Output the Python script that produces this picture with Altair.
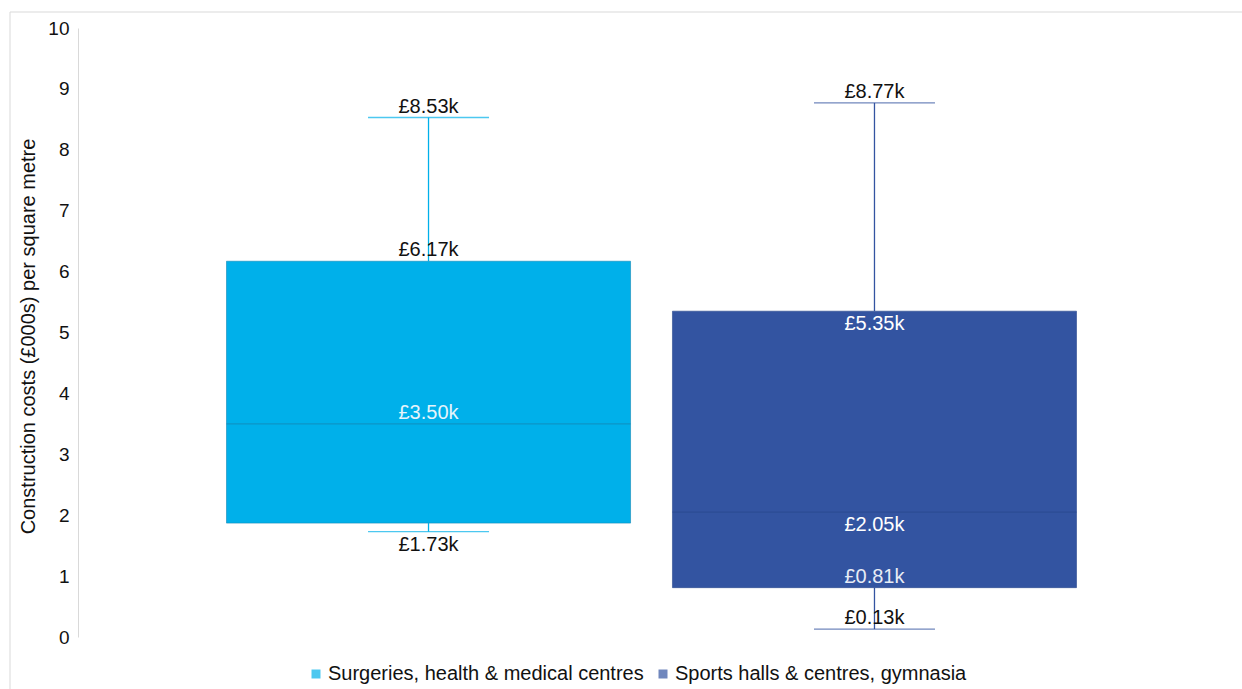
import altair as alt
import pandas as pd

categories = ["Surgeries, health & medical centres", "Sports halls & centres, gymnasia"]
colors = ["#00B0EA", "#3354A1"]
edge_colors = ["#1189B8", "#2A488E"]
mins = [1.73, 0.13]
q1s = [1.87, 0.81]
medians = [3.50, 2.05]
q3s = [6.17, 5.35]
maxs = [8.53, 8.77]

# label rows: category index, value, text, placement, colour
label_cat = [0, 0, 0, 0, 1, 1, 1, 1, 1]
label_val = [8.53, 6.17, 3.50, 1.73, 8.77, 5.35, 2.05, 0.81, 0.13]
label_txt = ["£8.53k", "£6.17k", "£3.50k", "£1.73k", "£8.77k", "£5.35k", "£2.05k", "£0.81k", "£0.13k"]
label_pos = ["above", "above", "above", "below", "above", "below", "below", "above", "above"]
label_col = ["#111111", "#111111", "#E6F4FB", "#111111", "#111111", "#FFFFFF", "#FFFFFF", "#E8ECF5", "#111111"]

FONT = "Liberation Sans"

stats = pd.DataFrame({
    "category": categories,
    "min": mins, "q1": q1s, "median": medians, "q3": q3s, "max": maxs,
    "edge": edge_colors,
})
labels = pd.DataFrame({
    "category": [categories[i] for i in label_cat],
    "value": label_val,
    "text": label_txt,
    "pos": label_pos,
    "col": label_col,
})

xenc = alt.X("category:N", sort=categories, axis=None,
             scale=alt.Scale(paddingInner=0.094, paddingOuter=0.333))
yscale = alt.Scale(domain=[0, 10], nice=False, zero=True)
legend = alt.Legend(title=None, orient="none", legendX=228, legendY=636,
                    direction="horizontal", symbolType="square",
                    symbolSize=81, symbolStrokeWidth=0, symbolOpacity=1,
                    labelFont=FONT, labelFontSize=20, labelColor="#111111",
                    columnPadding=9, labelOffset=2, labelLimit=600)
color_enc = alt.Color("category:N", sort=categories,
                      scale=alt.Scale(domain=categories, range=colors),
                      legend=legend)

base = alt.Chart(stats)

upper = base.mark_rule(strokeWidth=1.3).encode(
    x=xenc, y=alt.Y("q3:Q", scale=yscale), y2="max:Q", color=color_enc)
lower = base.mark_rule(strokeWidth=1.3).encode(
    x=xenc, y=alt.Y("min:Q", scale=yscale), y2="q1:Q", color=color_enc)

box = base.mark_bar(strokeWidth=1, strokeOpacity=0.6).encode(
    x=xenc,
    y=alt.Y("q1:Q", scale=yscale,
            axis=alt.Axis(title="Construction costs (£000s) per square metre",
                          values=list(range(0, 11)), format="d", grid=False, ticks=False,
                          domainColor="#D9D9D9", domainWidth=1,
                          labelFont=FONT, labelFontSize=19, labelColor="#111111", labelPadding=9,
                          titleFont=FONT, titleFontSize=20, titleFontWeight="normal",
                          titleColor="#111111", titleX=-40, titleY=308)),
    y2="q3:Q",
    color=color_enc,
    stroke=alt.Stroke("edge:N", scale=None),
)

median = base.mark_tick(size=404, thickness=1.2, orient="horizontal").encode(
    x=xenc, y=alt.Y("median:Q", scale=yscale), color=alt.Color("edge:N", scale=None))
cap_max = base.mark_tick(size=121, thickness=1.4, orient="horizontal").encode(
    x=xenc, y=alt.Y("max:Q", scale=yscale), color=color_enc)
cap_min = base.mark_tick(size=121, thickness=1.4, orient="horizontal").encode(
    x=xenc, y=alt.Y("min:Q", scale=yscale), color=color_enc)

lab = alt.Chart(labels)
above = lab.transform_filter(alt.datum.pos == "above").mark_text(
    font=FONT, fontSize=20, baseline="bottom", dy=-1).encode(
    x=xenc, y=alt.Y("value:Q", scale=yscale), text="text:N", color=alt.Color("col:N", scale=None))
below = lab.transform_filter(alt.datum.pos == "below").mark_text(
    font=FONT, fontSize=20, baseline="top", dy=3).encode(
    x=xenc, y=alt.Y("value:Q", scale=yscale), text="text:N", color=alt.Color("col:N", scale=None))

frame = alt.Chart(pd.DataFrame({"k": [0]})).mark_rect(
    fill=None, stroke="#D9D9D9", strokeWidth=1, clip=False).encode(
    x=alt.value(-68), x2=alt.value(1180), y=alt.value(-16), y2=alt.value(670))

chart = alt.layer(frame, upper, lower, box, median, cap_max, cap_min, above, below).properties(
    width=1147, height=609,
    autosize=alt.AutoSizeParams(type="none"),
    padding={"left": 78, "top": 28, "right": 17, "bottom": 52},
    background="white",
).configure_view(stroke=None)

chart.save("out.html", embed_options={"renderer": "svg", "actions": False})
